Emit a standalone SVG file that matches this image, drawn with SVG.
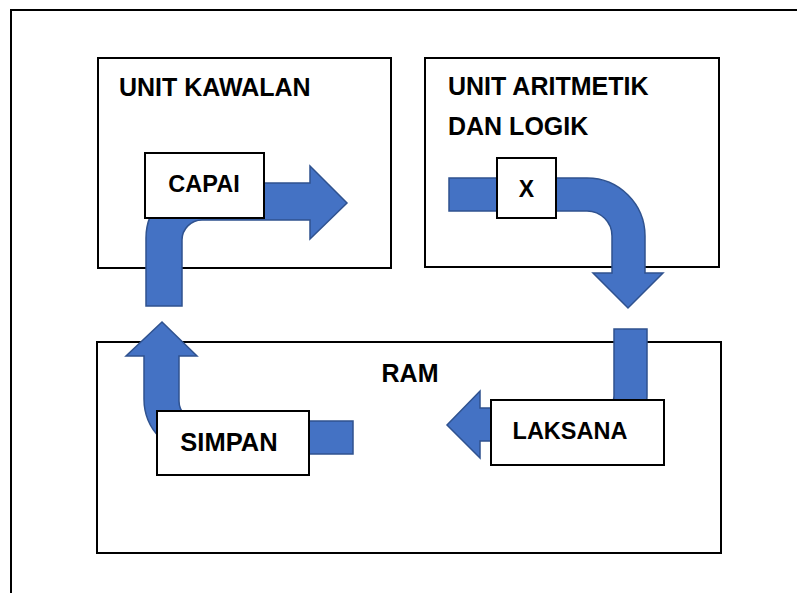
<svg xmlns="http://www.w3.org/2000/svg" width="797" height="593" viewBox="0 0 797 593">
  <style>
    .frame { fill: #ffffff; stroke: #000000; stroke-width: 2; }
    .box { fill: #ffffff; stroke: #000000; stroke-width: 2; }
    .arrow { fill: #4472C4; stroke: #2F528F; stroke-width: 1.5; stroke-linejoin: miter; }
    .t { font-family: "Liberation Sans", Arial, sans-serif; font-weight: bold; font-size: 25px; fill: #000000; }
    .c { text-anchor: middle; }
  </style>
  <rect width="797" height="593" fill="#ffffff"/>
  <rect class="frame" x="11" y="10" width="800" height="600"/>

  <g id="unit-kawalan">
    <rect class="box" x="98" y="58" width="293" height="210"/>
    <text class="t" x="119" y="96">UNIT KAWALAN</text>
  </g>
  <g id="unit-aritmetik">
    <rect class="box" x="425" y="58" width="294" height="209"/>
    <text class="t" x="448" y="95">UNIT ARITMETIK</text>
    <text class="t" x="448" y="135">DAN LOGIK</text>
  </g>
  <g id="ram">
    <rect class="box" x="97" y="342" width="624" height="211"/>
    <text class="t c" x="410" y="382">RAM</text>
  </g>

  <g id="connectors">
    <path class="arrow" d="M146,306 L146,238 A55,55 0 0 1 201,183 L310,183 L310,166 L347,203 L310,239 L310,220 L202,220 A20,20 0 0 0 182,240 L182,306 Z"/>
    <path class="arrow" d="M449,178 L587,178 A58,58 0 0 1 645,236 L645,273 L663,273 L628,308 L593,273 L612,273 L612,236 A25,25 0 0 0 587,211 L449,211 Z"/>
    <path class="arrow" d="M614,329 L647,329 L647,396 A45,45 0 0 1 602,441 L480,441 L480,458 L447,425 L480,391 L480,408 L602,408 A12,12 0 0 0 614,396 Z"/>
    <path class="arrow" d="M353,421 L353,454 L199,454 A55,55 0 0 1 144,399 L144,356 L126,356 L162,322 L197,356 L179,356 L179,401 A20,20 0 0 0 199,421 Z"/>
  </g>

  <g id="capai">
    <rect class="box" x="145" y="153" width="119" height="65"/>
    <text class="t c" x="204" y="192" style="font-size:23.5px">CAPAI</text>
  </g>
  <g id="x">
    <rect class="box" x="497" y="158" width="59" height="60"/>
    <text class="t c" x="526.5" y="197" style="font-size:23px">X</text>
  </g>
  <g id="simpan">
    <rect class="box" x="157" y="411" width="152" height="64"/>
    <text class="t c" x="229" y="451" style="font-size:25.5px">SIMPAN</text>
  </g>
  <g id="laksana">
    <rect class="box" x="491" y="400" width="173" height="65"/>
    <text class="t c" x="570" y="439" style="font-size:23.5px">LAKSANA</text>
  </g>
</svg>
